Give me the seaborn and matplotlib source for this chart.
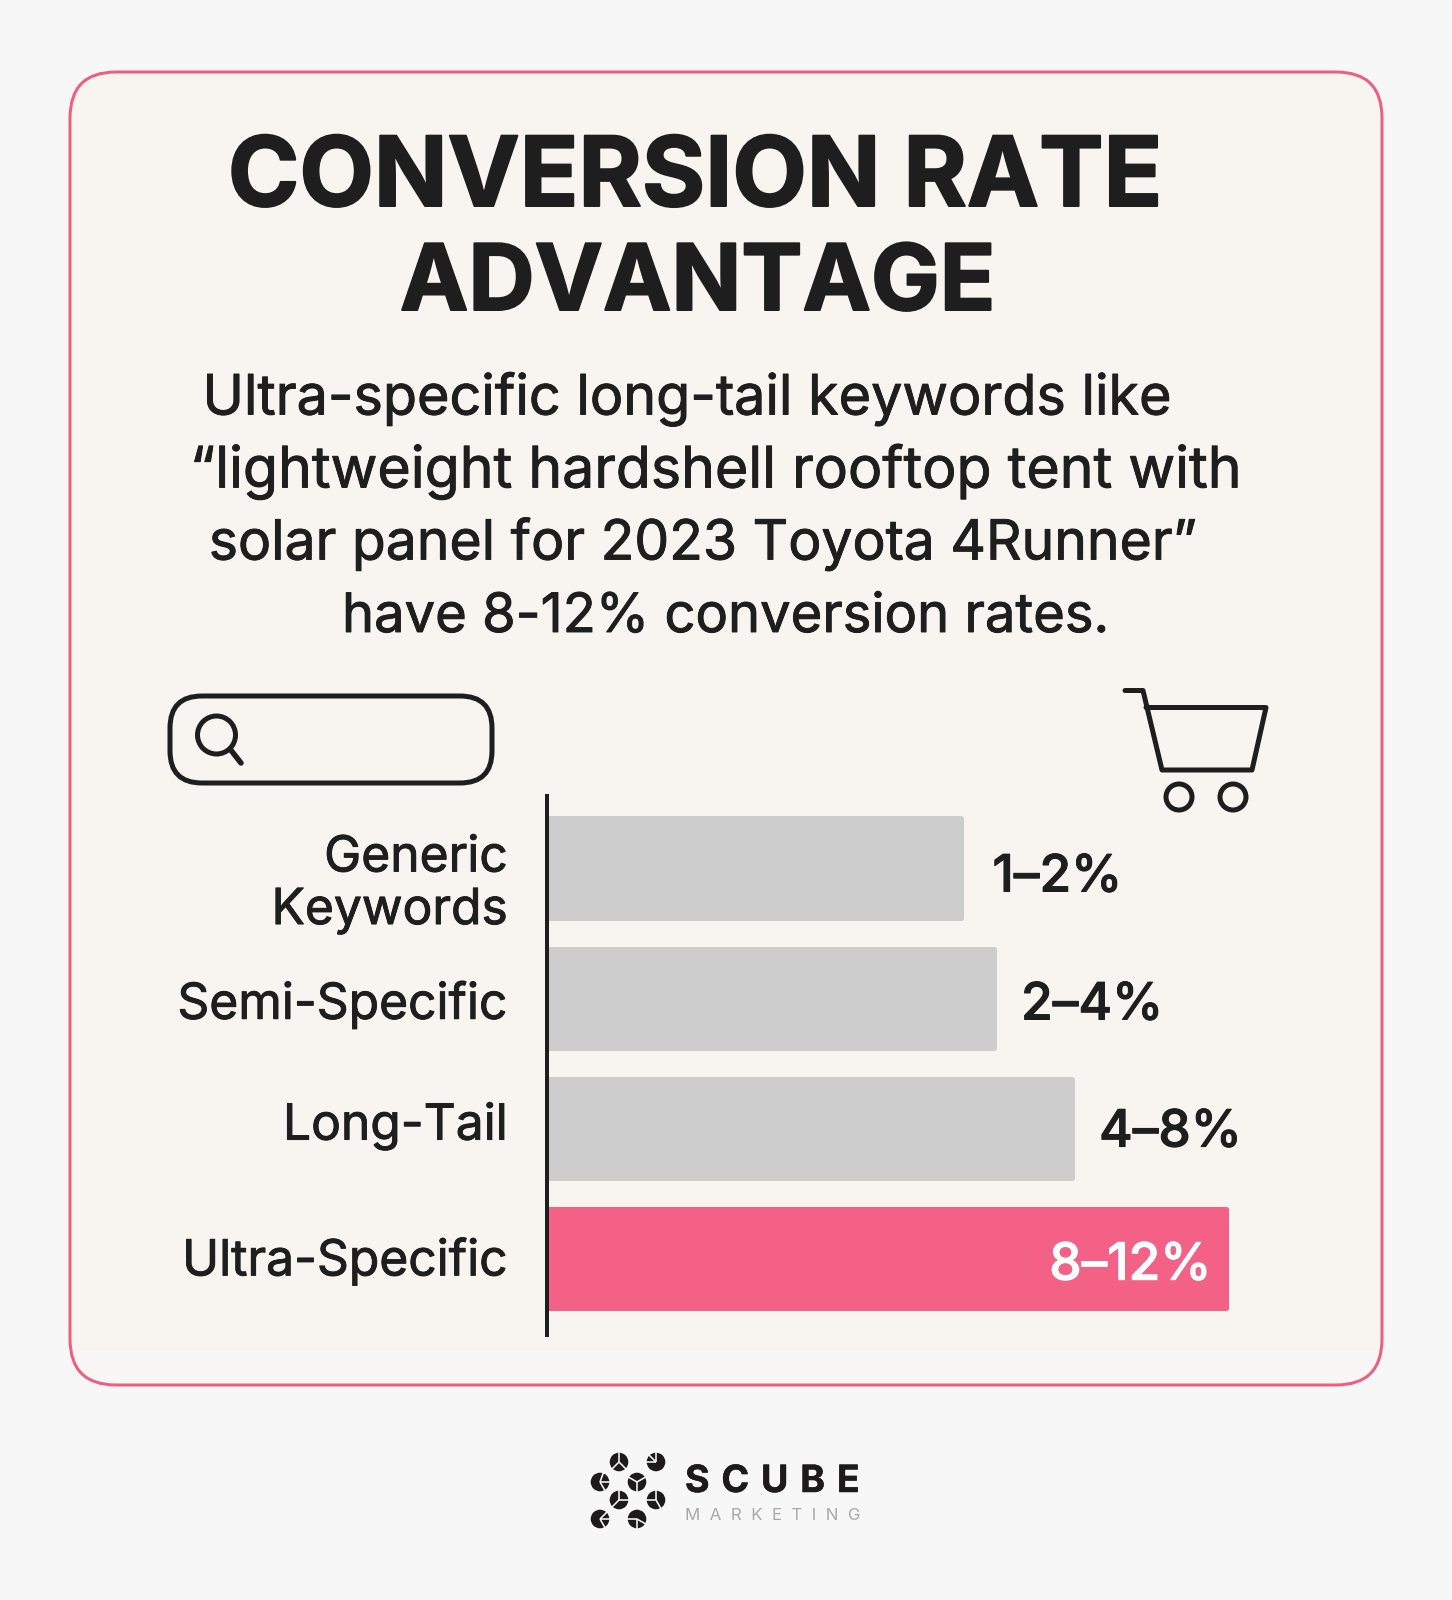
import numpy as np
import pandas as pd
import matplotlib
matplotlib.use("Agg")
import matplotlib.pyplot as plt
import matplotlib.patheffects as pe
import seaborn as sns
from matplotlib.patches import FancyBboxPatch, Circle, Rectangle
from matplotlib.transforms import ScaledTranslation

# ---------- data ----------
categories = ["Generic\nKeywords", "Semi-Specific", "Long-Tail", "Ultra-Specific"]
bar_lengths = [60.8, 65.5, 77.0, 99.6]   # bar length, % of the axis
range_labels = ["1–2%", "2–4%", "4–8%", "8–12%"]
groups = ["other", "other", "other", "highlight"]
title_lines = ["CONVERSION RATE", "ADVANTAGE"]
subtitle_lines = ["Ultra-specific long-tail keywords like",
                  "“lightweight hardshell rooftop tent with",
                  "solar panel for 2023 Toyota 4Runner”",
                  "have 8-12% conversion rates."]

# ---------- style ----------
BG, CARD, BAND = "#F7F7F7", "#F8F5F1", "#F8F7F5"
PINK, PINKBAR, GRAY, INK = "#EF5E80", "#F46186", "#CDCDCD", "#1E1E1E"
W, H, DPI = 1452, 1600, 100
px = 72 / DPI

sns.set_theme(style="white")
plt.rcParams["font.family"] = ["Inter", "DejaVu Sans"]

def heavy(w, color=INK):
    return [pe.withStroke(linewidth=w * px, foreground=color)]

fig = plt.figure(figsize=(W / DPI, H / DPI), dpi=DPI, facecolor=BG)

# page layer in pixel coordinates for card, headings and icons
pg = fig.add_axes([0, 0, 1, 1], zorder=0)
pg.set_xlim(0, W); pg.set_ylim(H, 0); pg.axis("off")

def rbox(x0, y0, x1, y1, r, **kw):
    p = FancyBboxPatch((x0 + r, y0 + r), x1 - x0 - 2 * r, y1 - y0 - 2 * r,
                       boxstyle=f"round,pad={r},rounding_size={r}", **kw)
    pg.add_patch(p)
    return p

card = rbox(70, 72, 1382, 1385, 46, fc=CARD, ec="none", zorder=1)
band = Rectangle((60, 1351), 1340, 50, fc=BAND, ec="none", zorder=1.1)
pg.add_patch(band); band.set_clip_path(card)
rbox(70, 72, 1382, 1385, 46, fc="none", ec=PINK, lw=3 * px, zorder=2)

# headings
for line, x, y, fs in zip(title_lines, [695, 697.5], [206, 310], [69.6, 66]):
    pg.text(x, y, line, ha="center", va="baseline", fontsize=fs, fontweight="bold",
            color=INK, zorder=3, path_effects=heavy(2))
for line, x, y, fs in zip(subtitle_lines, [687, 715, 702.5, 726], [414.5, 487.5, 559.5, 632],
                          [40.1, 41.2, 39.8, 39.1]):
    pg.text(x, y, line, ha="center", va="baseline", fontsize=fs,
            color=INK, zorder=3, path_effects=heavy(0.9))

# search box icon
rbox(170, 696, 492, 783, 32, fc="none", ec=INK, lw=5 * px, zorder=3)
pg.add_patch(Circle((216.5, 735), 19, fc="none", ec=INK, lw=5 * px, zorder=3))
pg.plot([230, 241], [749, 763], color=INK, lw=5.5 * px, solid_capstyle="round", zorder=3)

# cart icon
pg.plot([1125, 1143, 1162, 1252, 1266, 1146],
        [690.5, 690.5, 770, 770, 707.5, 707.5], color=INK, lw=5 * px,
        solid_joinstyle="round", solid_capstyle="round", zorder=3)
for cx in (1179, 1233):
    pg.add_patch(Circle((cx, 797), 13, fc="none", ec=INK, lw=5 * px, zorder=3))

# logo
centres = [(619, 1462), (656, 1462), (600, 1482), (637, 1482),
           (619, 1500), (656, 1500), (600, 1519), (637, 1519)]
cuts = [(90, 225, 315), (135, 180, 90), (0, 70, 300), (270, 30, 150),
        (90, 0, 225), (180, 90, 300), (0, 45, 300), (180, 270, 330)]
for (cx, cy), angs in zip(centres, cuts):
    pg.add_patch(Circle((cx, cy), 9.3, fc="#1C1A1B", ec="none", zorder=3))
    for a in angs:
        t = np.deg2rad(a)
        pg.plot([cx, cx + 10 * np.cos(t)], [cy, cy - 10 * np.sin(t)],
                color=BG, lw=1.6 * px, solid_capstyle="butt", zorder=3.1)
pg.text(685, 1492, "S\u200a C\u200a U\u200a B\u200a E", ha="left", va="baseline", fontsize=27,
        fontweight="bold", color="#1C1A1B", zorder=3, path_effects=heavy(0.5, "#1C1A1B"))
pg.text(685, 1520, "M  A  R  K  E  T  I  N  G", ha="left", va="baseline", fontsize=12.1,
        color="#A8A8A8", zorder=3)

# ---------- bar chart ----------
L, R, T, B = 546.5, 1229, 796, 1335
ax = fig.add_axes([L / W, 1 - B / H, (R - L) / W, (B - T) / H], zorder=1)
ax.patch.set_alpha(0)
df = pd.DataFrame({"category": categories, "length": bar_lengths, "group": groups})
sns.barplot(data=df, y="category", x="length", hue="group", dodge=False, legend=False,
            palette={"other": GRAY, "highlight": PINKBAR}, saturation=1, width=0.76, ax=ax)
for p in ax.patches:
    p.set_edgecolor(p.get_facecolor()); p.set_linewidth(5 * px)
    p.set_joinstyle("round"); p.set_clip_on(False)
ax.set_xlim(0, 100)
ax.set_ylim((B - 868) / 130.3, (T - 868) / 130.3)
ax.set_xlabel(""); ax.set_ylabel(""); ax.set_xticks([])
for s in ("top", "right", "bottom"):
    ax.spines[s].set_visible(False)
ax.spines["left"].set_linewidth(4 * px); ax.spines["left"].set_color(INK)
ax.spines["left"].set_zorder(5)
ax.tick_params(axis="y", length=0, pad=38.5 * px, labelsize=35.8, labelcolor=INK)
for lab, dy in zip(ax.get_yticklabels(), [8.5, 1, -8, -3]):
    lab.set_transform(lab.get_transform() + ScaledTranslation(0, -dy / DPI, fig.dpi_scale_trans))
    lab.set_linespacing(1.15)
    lab.set_path_effects(heavy(0.9))

for i, (v, lab) in enumerate(zip(bar_lengths, range_labels)):
    inside = i == len(bar_lengths) - 1
    dx = [31, 27.5, 27, -15][i]
    dy = [10, 7.7, 4.5, 7.3][i]
    ax.annotate(lab, (v, i), xytext=(dx * px, -dy * px), textcoords="offset points",
                ha="right" if inside else "left", va="center", fontsize=37, fontweight="medium",
                color="white" if inside else INK,
                path_effects=heavy(1.0, "white" if inside else INK))

fig.savefig("out.png", dpi=DPI, facecolor=BG)
